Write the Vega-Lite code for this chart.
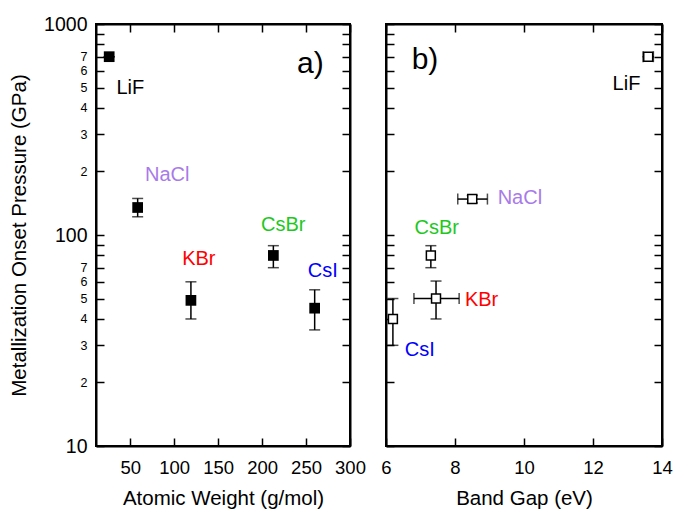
{
  "$schema": "https://vega.github.io/schema/vega-lite/v6.json",
  "background": "white",
  "padding": {"top": 13, "left": 8, "right": 5, "bottom": 5},
  "spacing": 12,
  "datasets": {
    "ptsA": [
      {"name": "LiF", "aw": 26, "p": 700, "lo": 700, "hi": 700},
      {"name": "NaCl", "aw": 58.4, "p": 135, "lo": 122, "hi": 149},
      {"name": "KBr", "aw": 119, "p": 49, "lo": 40, "hi": 60},
      {"name": "CsBr", "aw": 212.8, "p": 80, "lo": 70, "hi": 89},
      {"name": "CsI", "aw": 259.8, "p": 45, "lo": 35.5, "hi": 55}
    ],
    "labA": [
      {"name": "LiF", "tx": 50, "ty": 495},
      {"name": "NaCl", "tx": 92, "ty": 193},
      {"name": "KBr", "tx": 128, "ty": 77},
      {"name": "CsBr", "tx": 224, "ty": 111},
      {"name": "CsI", "tx": 269, "ty": 67.5}
    ],
    "ptsB": [
      {"name": "LiF", "bg": 13.6, "p": 700, "lo": 700, "hi": 700, "xlo": 13.45, "xhi": 13.75},
      {"name": "NaCl", "bg": 8.5, "p": 148, "lo": 142, "hi": 154, "xlo": 8.08, "xhi": 8.94},
      {"name": "CsBr", "bg": 7.3, "p": 80, "lo": 70, "hi": 89, "xlo": null, "xhi": null},
      {"name": "KBr", "bg": 7.45, "p": 50, "lo": 40, "hi": 60.5, "xlo": 6.81, "xhi": 8.12},
      {"name": "CsI", "bg": 6.2, "p": 40, "lo": 30, "hi": 50, "xlo": null, "xhi": null}
    ],
    "labB": [
      {"name": "LiF", "tx": 12.97, "ty": 519},
      {"name": "NaCl", "tx": 9.88, "ty": 149},
      {"name": "CsBr", "tx": 7.47, "ty": 107.5},
      {"name": "KBr", "tx": 8.77, "ty": 49},
      {"name": "CsI", "tx": 6.98, "ty": 28.4}
    ]
  },
  "hconcat": [
    {
      "width": 254,
      "height": 422,
      "layer": [
        {
          "data": {"name": "ptsA"},
          "mark": {"type": "errorbar", "ticks": {"size": 11, "thickness": 1.5}, "thickness": 1.5, "color": "black"},
          "encoding": {
            "x": {"field": "aw", "type": "quantitative", "scale": {"domain": [11, 300], "nice": false, "zero": false}, "axis": null},
            "y": {"field": "lo", "type": "quantitative", "scale": {"type": "log", "domain": [10, 1000], "nice": false}, "axis": null},
            "y2": {"field": "hi"}
          }
        },
        {
          "data": {"name": "ptsA"},
          "mark": {"type": "point", "shape": "square", "filled": true, "size": 115, "color": "black", "opacity": 1},
          "encoding": {
            "x": {"field": "aw", "type": "quantitative", "scale": {"domain": [11, 300], "nice": false, "zero": false},
              "axis": {"orient": "bottom", "title": "Atomic Weight (g/mol)", "values": [50, 100, 150, 200, 250, 300], "labelFontSize": 18.5, "titleFontSize": 20.5, "tickSize": -8, "labelPadding": 20, "titlePadding": 12, "labelFlush": false, "labelOverlap": false}},
            "y": {"field": "p", "type": "quantitative", "scale": {"type": "log", "domain": [10, 1000], "nice": false},
              "axis": {"orient": "left", "title": "Metallization Onset Pressure (GPa)", "values": [10, 20, 30, 40, 50, 60, 70, 80, 90, 100, 200, 300, 400, 500, 600, 700, 800, 900, 1000],
                "labelExpr": "datum.value == 10 || datum.value == 100 || datum.value == 1000 ? format(datum.value, 'd') : (datum.value < 100 ? (datum.value <= 70 ? format(datum.value / 10, 'd') : '') : (datum.value <= 700 ? format(datum.value / 100, 'd') : ''))",
                "labelFontSize": {"condition": {"test": "datum.value == 10 || datum.value == 100 || datum.value == 1000", "value": 19.5}, "value": 12.5},
                "tickSize": -8, "labelPadding": 17, "titleFontSize": 20.5, "titlePadding": 14, "labelOverlap": false, "labelFlush": false}}
          }
        },
        {
          "data": {"name": "labA"},
          "mark": {"type": "text", "fontSize": 20, "align": "center", "baseline": "middle"},
          "encoding": {
            "x": {"field": "tx", "type": "quantitative", "scale": {"domain": [11, 300], "nice": false, "zero": false},
              "axis": {"orient": "top", "title": null, "labels": false, "values": [50, 100, 150, 200, 250, 300], "tickSize": -8}},
            "y": {"field": "ty", "type": "quantitative", "scale": {"type": "log", "domain": [10, 1000], "nice": false},
              "axis": {"orient": "right", "title": null, "labels": false, "values": [10, 20, 30, 40, 50, 60, 70, 80, 90, 100, 200, 300, 400, 500, 600, 700, 800, 900, 1000], "tickSize": -8}},
            "text": {"field": "name"},
            "color": {"field": "name", "type": "nominal", "scale": {"domain": ["LiF", "NaCl", "KBr", "CsBr", "CsI"], "range": ["#000000", "#a87aea", "#ff0000", "#1ec81e", "#0000ff"]}, "legend": null}
          }
        },
        {
          "data": {"values": [{"tag": "a)", "tx": 255, "ty": 646}]},
          "mark": {"type": "text", "fontSize": 30, "align": "center", "baseline": "middle", "color": "black"},
          "encoding": {
            "x": {"field": "tx", "type": "quantitative", "scale": {"domain": [11, 300], "nice": false, "zero": false}, "axis": null},
            "y": {"field": "ty", "type": "quantitative", "scale": {"type": "log", "domain": [10, 1000], "nice": false}, "axis": null},
            "text": {"field": "tag"}
          }
        }
      ],
      "resolve": {"axis": {"x": "independent", "y": "independent"}}
    },
    {
      "width": 276,
      "height": 422,
      "layer": [
        {
          "data": {"name": "ptsB"},
          "mark": {"type": "errorbar", "ticks": {"size": 11, "thickness": 1.5}, "thickness": 1.5, "color": "black"},
          "encoding": {
            "x": {"field": "bg", "type": "quantitative", "scale": {"domain": [6, 14], "nice": false, "zero": false}, "axis": null},
            "y": {"field": "lo", "type": "quantitative", "scale": {"type": "log", "domain": [10, 1000], "nice": false}, "axis": null},
            "y2": {"field": "hi"}
          }
        },
        {
          "data": {"name": "ptsB"},
          "transform": [{"filter": "datum.xlo != null"}],
          "mark": {"type": "errorbar", "ticks": {"size": 11, "thickness": 1.5}, "thickness": 1.5, "color": "black"},
          "encoding": {
            "y": {"field": "p", "type": "quantitative", "scale": {"type": "log", "domain": [10, 1000], "nice": false}, "axis": null},
            "x": {"field": "xlo", "type": "quantitative", "scale": {"domain": [6, 14], "nice": false, "zero": false}, "axis": null},
            "x2": {"field": "xhi"}
          }
        },
        {
          "data": {"name": "ptsB"},
          "mark": {"type": "point", "shape": "square", "filled": false, "fill": "white", "fillOpacity": 1, "size": 80, "stroke": "black", "strokeWidth": 1.5, "opacity": 1},
          "encoding": {
            "x": {"field": "bg", "type": "quantitative", "scale": {"domain": [6, 14], "nice": false, "zero": false},
              "axis": {"orient": "bottom", "title": "Band Gap (eV)", "values": [6, 8, 10, 12, 14], "labelFontSize": 18.5, "titleFontSize": 20.5, "tickSize": -8, "labelPadding": 20, "titlePadding": 12, "labelFlush": false, "labelOverlap": false}},
            "y": {"field": "p", "type": "quantitative", "scale": {"type": "log", "domain": [10, 1000], "nice": false},
              "axis": {"orient": "left", "title": null, "labels": false, "values": [10, 20, 30, 40, 50, 60, 70, 80, 90, 100, 200, 300, 400, 500, 600, 700, 800, 900, 1000], "tickSize": -8}}
          }
        },
        {
          "data": {"name": "labB"},
          "mark": {"type": "text", "fontSize": 20, "align": "center", "baseline": "middle"},
          "encoding": {
            "x": {"field": "tx", "type": "quantitative", "scale": {"domain": [6, 14], "nice": false, "zero": false},
              "axis": {"orient": "top", "title": null, "labels": false, "values": [6, 8, 10, 12, 14], "tickSize": -8}},
            "y": {"field": "ty", "type": "quantitative", "scale": {"type": "log", "domain": [10, 1000], "nice": false},
              "axis": {"orient": "right", "title": null, "labels": false, "values": [10, 20, 30, 40, 50, 60, 70, 80, 90, 100, 200, 300, 400, 500, 600, 700, 800, 900, 1000], "tickSize": -8}},
            "text": {"field": "name"},
            "color": {"field": "name", "type": "nominal", "scale": {"domain": ["LiF", "NaCl", "KBr", "CsBr", "CsI"], "range": ["#000000", "#a87aea", "#ff0000", "#1ec81e", "#0000ff"]}, "legend": null}
          }
        },
        {
          "data": {"values": [{"tag": "b)", "tx": 7.13, "ty": 678}]},
          "mark": {"type": "text", "fontSize": 30, "align": "center", "baseline": "middle", "color": "black"},
          "encoding": {
            "x": {"field": "tx", "type": "quantitative", "scale": {"domain": [6, 14], "nice": false, "zero": false}, "axis": null},
            "y": {"field": "ty", "type": "quantitative", "scale": {"type": "log", "domain": [10, 1000], "nice": false}, "axis": null},
            "text": {"field": "tag"}
          }
        }
      ],
      "resolve": {"axis": {"x": "independent", "y": "independent"}}
    }
  ],
  "config": {
    "font": "Liberation Sans",
    "view": {"stroke": "black", "strokeWidth": 2},
    "axis": {"grid": false, "domainColor": "black", "domainWidth": 2, "tickColor": "black", "tickWidth": 1.5, "labelColor": "black", "titleColor": "black", "labelFont": "Liberation Sans", "titleFont": "Liberation Sans", "titleFontWeight": "normal"}
  }
}
